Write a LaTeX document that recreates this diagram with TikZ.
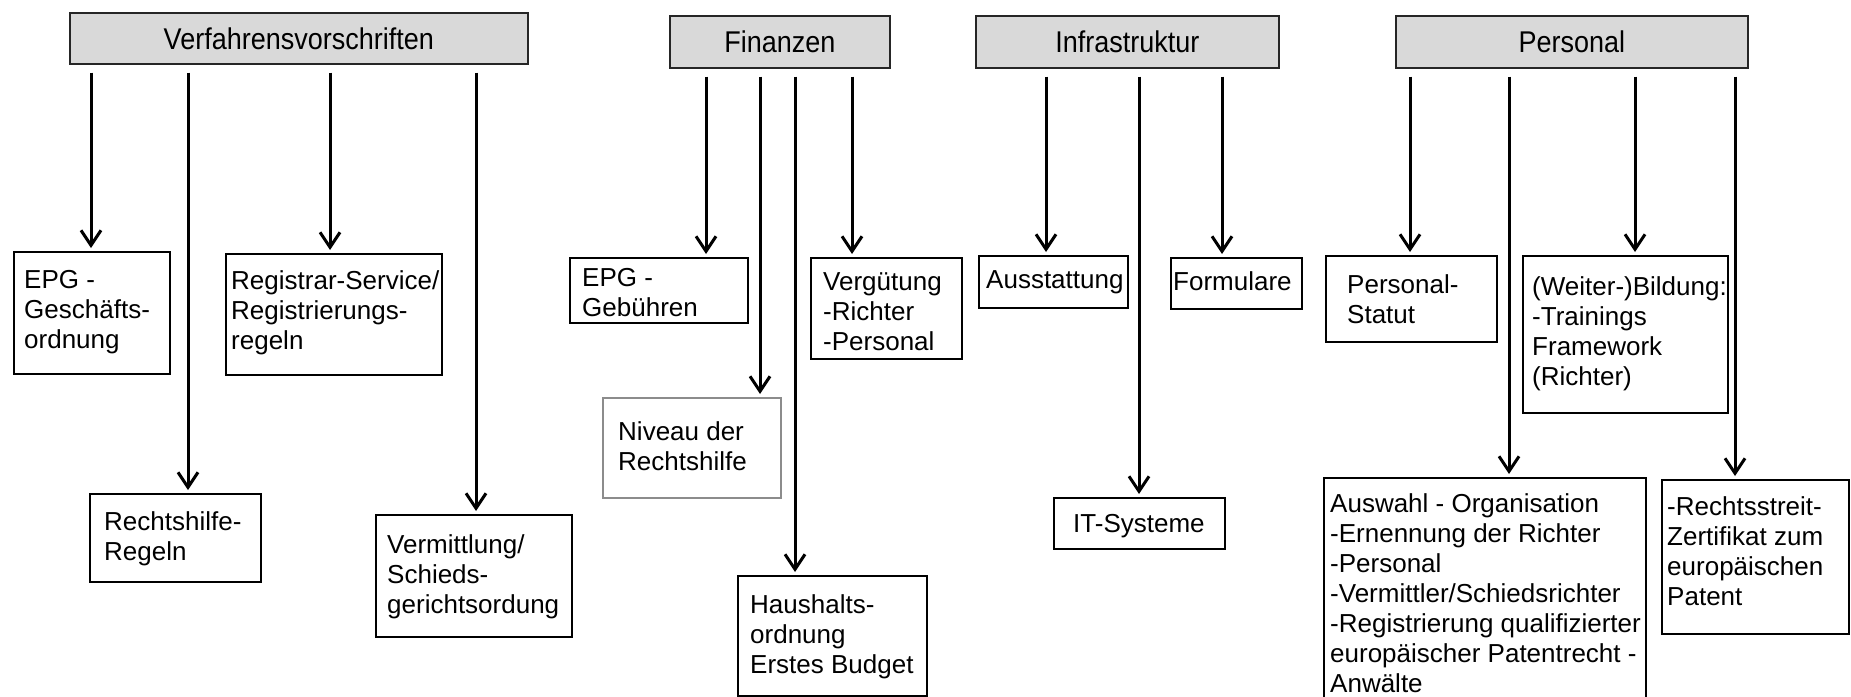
\documentclass[tikz,border=0pt]{standalone}
\usepackage{fontspec}
\setmainfont{Liberation Sans}
\newfontfamily\hdrfont[FakeStretch=0.9]{Liberation Sans}
\usetikzlibrary{arrows.meta}
\definecolor{hdrfill}{HTML}{D9D9D9}
\newcommand\ml[1]{\begin{tabular}[t]{@{}l@{}}#1\end{tabular}}
\tikzset{
  hdr/.style={draw=black!85, line width=1.6pt, fill=hdrfill, anchor=north west, inner sep=0pt, font=\hdrfont\fontsize{30}{34}\selectfont},
  bx/.style={draw, line width=1.5pt, anchor=north west, inner sep=0pt},
  txt/.style={anchor=base west, inner sep=0pt, font=\fontsize{26}{30}\selectfont},
  arr/.style={line width=3pt, -{Straight Barb[length=15pt,width=20pt]}, shorten <=8pt, shorten >=3pt}
}
\begin{document}
\begin{tikzpicture}[x=1pt,y=-1pt]
\useasboundingbox (0,0) rectangle (1851,696);
% headers
\node[hdr, minimum width=458pt, minimum height=51pt] (verf) at (69,12) {Verfahrensvorschriften};
\node[hdr, minimum width=220pt, minimum height=52pt] (fin) at (669,15) {Finanzen};
\node[hdr, minimum width=303pt, minimum height=52pt] (infra) at (975,15) {Infrastruktur};
\node[hdr, minimum width=352pt, minimum height=52pt] (pers) at (1395,15) {Personal};
% boxes
\node[bx, minimum width=156pt, minimum height=122pt] (epg) at (13,251) {};
\node[bx, minimum width=216pt, minimum height=121pt] (reg) at (225,253) {};
\node[bx, minimum width=171pt, minimum height=88pt] (rh) at (89,493) {};
\node[bx, minimum width=196pt, minimum height=122pt] (verm) at (375,514) {};
\node[bx, minimum width=178pt, minimum height=65pt] (geb) at (569,257) {};
\node[bx, minimum width=151pt, minimum height=101pt] (verg) at (810,257) {};
\node[bx, draw=black!45, minimum width=178pt, minimum height=100pt] (niv) at (602,397) {};
\node[bx, minimum width=189pt, minimum height=120pt] (haus) at (737,575) {};
\node[bx, minimum width=149pt, minimum height=52pt] (aus) at (978,255) {};
\node[bx, minimum width=171pt, minimum height=51pt] (it) at (1053,497) {};
\node[bx, minimum width=131pt, minimum height=51pt] (form) at (1170,257) {};
\node[bx, minimum width=171pt, minimum height=86pt] (stat) at (1325,255) {};
\node[bx, minimum width=205pt, minimum height=157pt] (weit) at (1522,255) {};
\node[bx, minimum width=322pt, minimum height=228pt] (ausw) at (1323,477) {};
\node[bx, minimum width=187pt, minimum height=154pt] (recht) at (1661,479) {};
% texts
\node[txt] (epg-t) at (24,288) {\ml{EPG -\\Geschäfts-\\ordnung}};
\node[txt] (reg-t) at (231,289) {\ml{Registrar-Service/\\Registrierungs-\\regeln}};
\node[txt] (rh-t) at (104,530) {\ml{Rechtshilfe-\\Regeln}};
\node[txt] (verm-t) at (387,553) {\ml{Vermittlung/\\Schieds-\\gerichtsordung}};
\node[txt] (geb-t) at (582,286) {\ml{EPG -\\Gebühren}};
\node[txt] (verg-t) at (823,290) {\ml{Vergütung\\-Richter\\-Personal}};
\node[txt] (niv-t) at (618,440) {\ml{Niveau der\\Rechtshilfe}};
\node[txt] (haus-t) at (750,613) {\ml{Haushalts-\\ordnung\\Erstes Budget}};
\node[txt] (aus-t) at (986,288) {Ausstattung};
\node[txt] (it-t) at (1073,532) {IT-Systeme};
\node[txt] (form-t) at (1173,290) {Formulare};
\node[txt] (stat-t) at (1347,293) {\ml{Personal-\\Statut}};
\node[txt] (weit-t) at (1532,295) {\ml{(Weiter-)Bildung:\\-Trainings\\Framework\\(Richter)}};
\node[txt] (ausw-t) at (1330,512) {\ml{Auswahl - Organisation\\-Ernennung der Richter\\-Personal\\-Vermittler/Schiedsrichter\\-Registrierung qualifizierter\\europäischer Patentrecht -\\Anwälte}};
\node[txt] (recht-t) at (1667,515) {\ml{-Rechtsstreit-\\Zertifikat zum\\europäischen\\Patent}};
% arrow columns
\coordinate (c1) at (91,0);
\coordinate (c2) at (188,0);
\coordinate (c3) at (330,0);
\coordinate (c4) at (476,0);
\coordinate (c5) at (706,0);
\coordinate (c6) at (760,0);
\coordinate (c7) at (795,0);
\coordinate (c8) at (852,0);
\coordinate (c9) at (1046,0);
\coordinate (c10) at (1139,0);
\coordinate (c11) at (1222,0);
\coordinate (c12) at (1410,0);
\coordinate (c13) at (1509,0);
\coordinate (c14) at (1635,0);
\coordinate (c15) at (1735,0);
% arrows
\draw[arr] (verf.south -| c1) -- (epg.north -| c1);
\draw[arr] (verf.south -| c2) -- (rh.north -| c2);
\draw[arr] (verf.south -| c3) -- (reg.north -| c3);
\draw[arr] (verf.south -| c4) -- (verm.north -| c4);
\draw[arr] (fin.south -| c5) -- (geb.north -| c5);
\draw[arr] (fin.south -| c6) -- (niv.north -| c6);
\draw[arr] (fin.south -| c7) -- (haus.north -| c7);
\draw[arr] (fin.south -| c8) -- (verg.north -| c8);
\draw[arr] (infra.south -| c9) -- (aus.north -| c9);
\draw[arr] (infra.south -| c10) -- (it.north -| c10);
\draw[arr] (infra.south -| c11) -- (form.north -| c11);
\draw[arr] (pers.south -| c12) -- (stat.north -| c12);
\draw[arr] (pers.south -| c13) -- (ausw.north -| c13);
\draw[arr] (pers.south -| c14) -- (weit.north -| c14);
\draw[arr] (pers.south -| c15) -- (recht.north -| c15);
\end{tikzpicture}
\end{document}
